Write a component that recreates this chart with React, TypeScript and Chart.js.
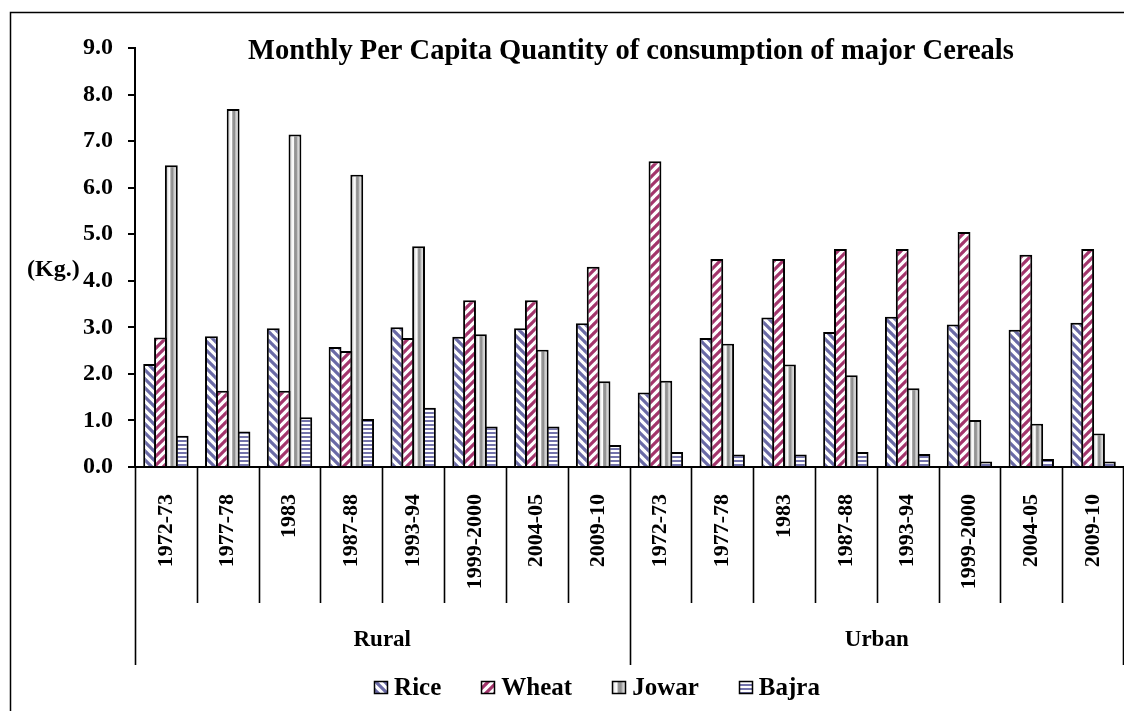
import React, { useEffect, useRef } from 'react';
import { Chart, registerables } from 'chart.js';

Chart.register(...registerables);

const periods = ['1972-73', '1977-78', '1983', '1987-88', '1993-94', '1999-2000', '2004-05', '2009-10'];
const groups = ['Rural', 'Urban'];
const categories = groups.flatMap((g) => periods.map((p) => g + '|' + p));
const seriesNames = ['Rice', 'Wheat', 'Jowar', 'Bajra'];
const rice = [2.21, 2.81, 2.98, 2.58, 3.0, 2.8, 2.98, 3.09, 1.6, 2.77, 3.21, 2.9, 3.23, 3.06, 2.95, 3.1];
const wheat = [2.78, 1.64, 1.64, 2.49, 2.77, 3.58, 3.58, 4.3, 6.57, 4.47, 4.47, 4.68, 4.68, 5.05, 4.56, 4.68];
const jowar = [6.48, 7.69, 7.14, 6.28, 4.74, 2.85, 2.52, 1.84, 1.85, 2.65, 2.2, 1.97, 1.69, 1.01, 0.93, 0.72];
const bajra = [0.67, 0.76, 1.07, 1.03, 1.27, 0.87, 0.87, 0.47, 0.32, 0.27, 0.27, 0.32, 0.28, 0.12, 0.17, 0.12];
const yMin = 0;
const yMax = 9;
const yStep = 1;
const titleText = 'Monthly Per Capita Quantity of consumption of major Cereals';
const unitText = '(Kg.)';

const FONT = '"Liberation Serif", "Times New Roman", serif';

function makeDiag(color: string, dir: 'back' | 'fwd'): CanvasPattern | string {
  const s = 9;
  const c = document.createElement('canvas');
  c.width = s;
  c.height = s;
  const g = c.getContext('2d');
  if (!g) return color;
  g.fillStyle = '#ffffff';
  g.fillRect(0, 0, s, s);
  g.strokeStyle = color;
  g.lineWidth = 3.2;
  g.beginPath();
  if (dir === 'back') {
    for (let k = -1; k <= 1; k++) {
      g.moveTo(k * s - 1, -1);
      g.lineTo(k * s + s + 1, s + 1);
    }
  } else {
    for (let k = -1; k <= 1; k++) {
      g.moveTo(k * s - 1, s + 1);
      g.lineTo(k * s + s + 1, -1);
    }
  }
  g.stroke();
  const p = g.createPattern(c, 'repeat');
  return p || color;
}

function makeHoriz(color: string): CanvasPattern | string {
  const c = document.createElement('canvas');
  c.width = 4;
  c.height = 4;
  const g = c.getContext('2d');
  if (!g) return color;
  g.fillStyle = '#ffffff';
  g.fillRect(0, 0, 4, 4);
  g.fillStyle = color;
  g.fillRect(0, 0, 4, 2);
  return g.createPattern(c, 'repeat') || color;
}

function jowarGradient(ctx: CanvasRenderingContext2D, x0: number, x1: number) {
  const gr = ctx.createLinearGradient(x0, 0, x1, 0);
  gr.addColorStop(0, '#d0d0d0');
  gr.addColorStop(0.2, '#f6f6f6');
  gr.addColorStop(0.33, '#ffffff');
  gr.addColorStop(0.45, '#9a9a9a');
  gr.addColorStop(0.65, '#8e8e8e');
  gr.addColorStop(0.8, '#c8c8c8');
  gr.addColorStop(1, '#e2e2e2');
  return gr;
}

export default function App() {
  const ref = useRef<HTMLCanvasElement | null>(null);

  useEffect(() => {
    const canvas = ref.current;
    if (!canvas) return;
    const ricePat = makeDiag('#6a6aa6', 'back');
    const wheatPat = makeDiag('#a3356c', 'fwd');
    const bajraPat = makeHoriz('#7373ab');
    const fills: any[] = [ricePat, wheatPat, '#aaaaaa', bajraPat];
    const BW = 2;

    const decor = {
      id: 'decor',
      beforeDraw(chart: any) {
        const c = chart.ctx;
        c.save();
        c.fillStyle = '#ffffff';
        c.fillRect(0, 0, chart.width, chart.height);
        c.strokeStyle = '#000';
        c.lineWidth = 1.5;
        c.beginPath();
        c.moveTo(10.5, chart.height + 5);
        c.lineTo(10.5, 12.5);
        c.lineTo(chart.width + 5, 12.5);
        c.stroke();
        c.restore();
      },
      afterDatasetDraw(chart: any, args: any) {
        if (args.index !== 2) return;
        const c = chart.ctx;
        c.save();
        args.meta.data.forEach((el: any) => {
          const p = el.getProps(['x', 'y', 'base', 'width'], true);
          const l = p.x - p.width / 2 + BW;
          const r = p.x + p.width / 2 - BW;
          const t = p.y + BW;
          const b = p.base;
          if (b - t <= 0) return;
          c.fillStyle = jowarGradient(c, l, r);
          c.fillRect(l, t, r - l, b - t);
        });
        c.restore();
      },
      afterDraw(chart: any) {
        const c = chart.ctx;
        const xs = chart.scales.x;
        const area = chart.chartArea;
        const n = categories.length;
        const step = (xs.right - xs.left) / n;
        const yAxis = area.bottom;
        const sepBottom = 603;
        const groupBottom = 665;
        c.save();
        c.strokeStyle = '#000';
        c.lineWidth = 1.6;
        c.beginPath();
        for (let i = 0; i <= n; i++) {
          const x = Math.min(Math.round(xs.left + i * step), chart.width - 1) + 0.5;
          const isGroupEdge = i % periods.length === 0;
          c.moveTo(x, yAxis);
          c.lineTo(x, isGroupEdge ? groupBottom : sepBottom);
        }
        c.stroke();

        c.fillStyle = '#000';
        c.font = 'bold 23px ' + FONT;
        c.textAlign = 'center';
        c.textBaseline = 'middle';
        groups.forEach((g, gi) => {
          const x0 = xs.left + gi * periods.length * step;
          const x1 = x0 + periods.length * step;
          c.fillText(g, (x0 + x1) / 2, 640);
        });

        // title
        c.font = 'bold 28.5px ' + FONT;
        c.textAlign = 'center';
        c.textBaseline = 'alphabetic';
        c.fillText(titleText, 631, 59);

        // unit label
        c.font = 'bold 24px ' + FONT;
        c.textAlign = 'left';
        c.textBaseline = 'middle';
        c.fillText(unitText, 27, 270);

        // legend
        c.font = 'bold 25px ' + FONT;
        const box = 15;
        const gapBox = 5;
        const itemGap = 40;
        const widths = seriesNames.map((s) => c.measureText(s).width);
        const total = widths.reduce((a, w) => a + box + gapBox + w, 0) + itemGap * (seriesNames.length - 1);
        let x = 597 - total / 2;
        const ly = 688;
        seriesNames.forEach((s, i) => {
          const bx = Math.round(x) + 0.5;
          const by = ly - 6.5;
          if (i === 2) {
            c.fillStyle = jowarGradient(c, bx, bx + box - 2);
          } else {
            c.fillStyle = fills[i];
          }
          c.fillRect(bx, by, box - 2, 12);
          c.lineWidth = 1.5;
          c.strokeStyle = '#000';
          c.strokeRect(bx, by, box - 2, 12);
          c.fillStyle = '#000';
          c.textAlign = 'left';
          c.textBaseline = 'middle';
          c.fillText(s, x + box + gapBox, ly + 1);
          x += box + gapBox + widths[i] + itemGap;
        });
        c.restore();
      },
    };

    const series = [rice, wheat, jowar, bajra];
    const chart = new Chart(canvas, {
      type: 'bar',
      data: {
        labels: categories,
        datasets: series.map((vals, i) => ({
          label: seriesNames[i],
          data: vals,
          backgroundColor: fills[i],
          borderColor: '#000000',
          borderWidth: BW,
          borderSkipped: 'start' as const,
          categoryPercentage: 0.702,
          barPercentage: 1.184,
        })),
      },
      options: {
        responsive: false,
        animation: false,
        events: [],
        layout: { padding: { top: 48, left: 0, right: 0, bottom: 0 } },
        plugins: {
          legend: { display: false },
          title: { display: false },
          tooltip: { enabled: false },
        },
        scales: {
          x: {
            z: 1,
            grid: { display: true, drawOnChartArea: false, drawTicks: false, color: 'rgba(0,0,0,0)' },
            border: { display: true, color: '#000', width: 2 },
            ticks: {
              autoSkip: false,
              minRotation: 90,
              maxRotation: 90,
              padding: 27,
              color: '#000',
              font: { family: FONT, size: 22, weight: 'bold' },
              callback: (_v: any, idx: number) => categories[idx].split('|')[1],
            },
            afterFit: (scale: any) => {
              scale.height = 244;
              scale.paddingLeft = 0;
              scale.paddingRight = 0;
            },
          },
          y: {
            z: 1,
            min: yMin,
            max: yMax,
            grid: { display: true, drawOnChartArea: false, drawTicks: true, tickLength: 7, color: '#000', lineWidth: 2 },
            border: { display: true, color: '#000', width: 2 },
            ticks: {
              stepSize: yStep,
              padding: 15,
              color: '#000',
              font: { family: FONT, size: 24, weight: 'bold' },
              callback: (v: any) => Number(v).toFixed(1),
            },
            afterFit: (scale: any) => {
              scale.width = 135;
            },
          },
        },
      },
      plugins: [decor],
    });
    return () => chart.destroy();
  }, []);

  return (
    <div style={{ position: 'fixed', left: 0, top: 0, width: 1124, height: 711, background: '#fff' }}>
      <canvas ref={ref} width={1124} height={711} style={{ display: 'block', width: 1124, height: 711 }} />
    </div>
  );
}
